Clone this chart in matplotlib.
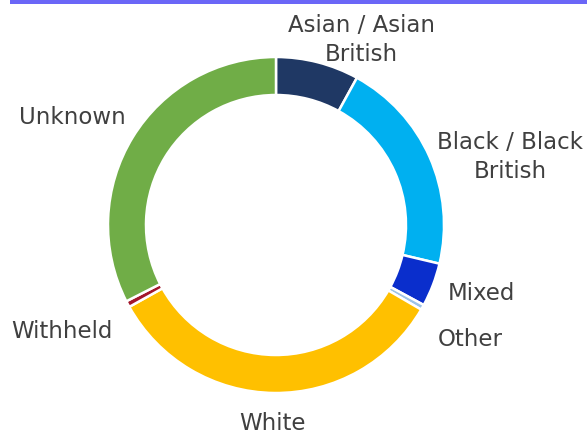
import matplotlib.pyplot as plt
from matplotlib.patches import Rectangle

categories = ['Asian / Asian\nBritish', 'Black / Black\nBritish', 'Mixed', 'Other',
              'White', 'Withheld', 'Unknown']
shares = [8.0, 20.7, 4.2, 0.5, 33.5, 0.6, 32.5]
colors = ['#1f3864', '#00b0f0', '#0a2ecc', '#9dc3e6', '#ffc000', '#a3162b', '#70ad47']

# label anchor points (pixels from top-left)
label_pos = [(361, 40), (510, 157), (481, 294), (470, 340),
             (272, 424), (62, 332), (72, 118)]

W, H = 587, 434
fig = plt.figure(figsize=(W / 100, H / 100), dpi=100)
ax = fig.add_axes([0, 0, 1, 1])

ax.pie(shares, colors=colors, startangle=90, counterclock=False,
       center=(276, H - 225), radius=168, frame=True,
       wedgeprops=dict(width=38, edgecolor='white', linewidth=1.8))
ax.set_xlim(0, W)
ax.set_ylim(0, H)
ax.set_aspect('auto')
ax.axis('off')

for lab, (x, y) in zip(categories, label_pos):
    ax.text(x, H - y, lab, ha='center', va='center', fontsize=16.5,
            color='#404040', family='DejaVu Sans', linespacing=1.28)

# thin accent bar along the top edge
ax.add_patch(Rectangle((10, H - 4), W - 10, 4, color='#6b66f7', lw=0, clip_on=False))

fig.savefig('out.png', dpi=100)
